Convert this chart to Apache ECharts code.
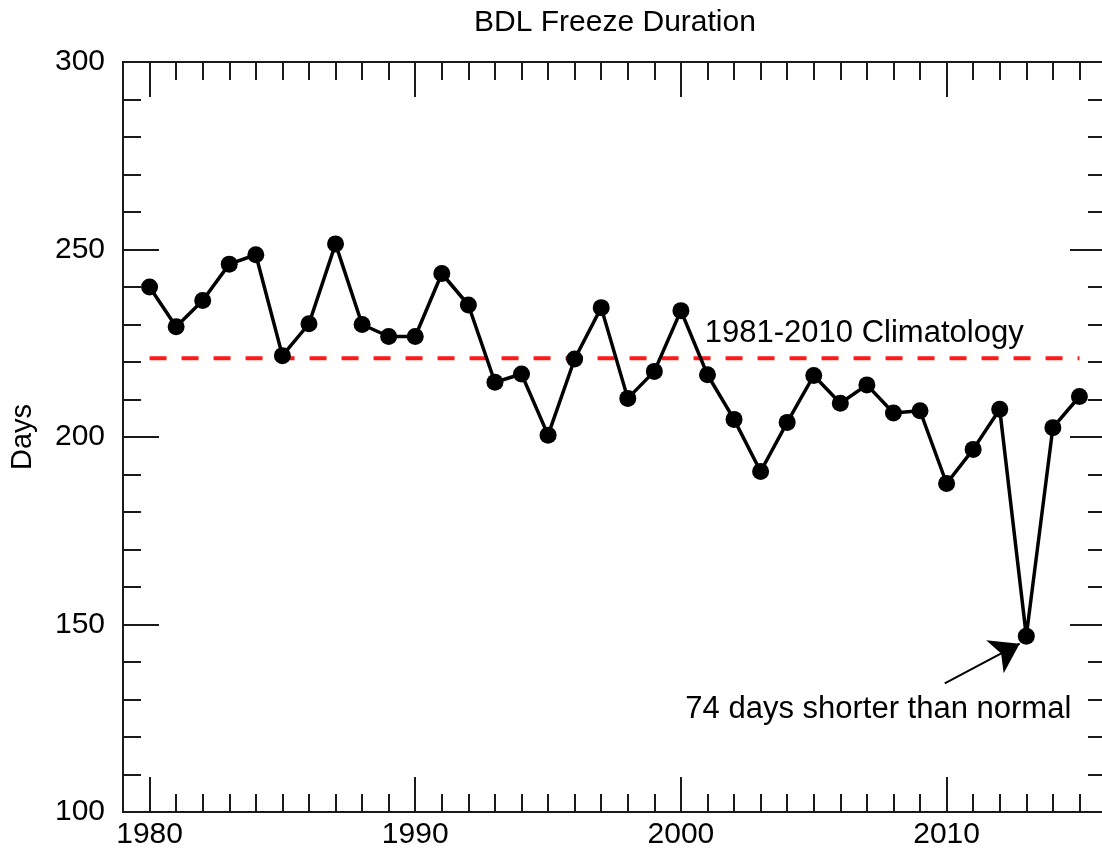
<!DOCTYPE html>
<html>
<head>
<meta charset="utf-8">
<title>BDL Freeze Duration</title>
<script src="https://cdn.jsdelivr.net/npm/echarts@6/dist/echarts.min.js"></script>
<style>
  html, body { margin: 0; padding: 0; background: #fff; }
  #chart { width: 1102px; height: 853px; }
</style>
</head>
<body>
<div id="chart"></div>
<script>
// freeze duration (days) per year
const years = [1980, 1981, 1982, 1983, 1984, 1985, 1986, 1987, 1988, 1989,
  1990, 1991, 1992, 1993, 1994, 1995, 1996, 1997, 1998, 1999,
  2000, 2001, 2002, 2003, 2004, 2005, 2006, 2007, 2008, 2009,
  2010, 2011, 2012, 2013, 2014, 2015];
const days = [240.0, 229.4, 236.4, 246.1, 248.6, 221.7, 230.2, 251.5, 230.0, 226.8,
  226.8, 243.6, 235.2, 214.6, 216.8, 200.5, 220.8, 234.5, 210.3, 217.5,
  233.7, 216.6, 204.7, 190.8, 203.9, 216.4, 209.0, 213.9, 206.4, 207.0,
  187.6, 196.7, 207.4, 146.9, 202.5, 210.8];

// 1981-2010 normal
const climatology = 221;
const climatologySpan = [1980, 2015];

// axis ticks
const decadeTicks = [1980, 1990, 2000, 2010];

// annotation anchors (data units)
const arrowFrom = [2009.93, 134.3];
const arrowTo = [2012.75, 144.9];
const noteAt = [2007.43, 127.4];
const climLabelAt = [2006.9, 227.6];

const chart = echarts.init(document.getElementById("chart"));

const font = "Liberation Sans, Arial, Helvetica, sans-serif";
const ink = "#000";
const axisInk = "#1a1a1a";

const xLayer = (position, ticks, len, labels) => ({
  type: "value",
  position,
  min: 1979,
  max: 2016,
  axisLine: { show: true, onZero: false, lineStyle: { color: axisInk, width: 2 } },
  axisTick: { show: true, inside: true, length: len, customValues: ticks, lineStyle: { color: axisInk, width: 2 } },
  axisLabel: labels
    ? { show: true, customValues: labels, margin: 8, fontSize: 30, color: ink, fontFamily: font, formatter: (v) => String(v) }
    : { show: false },
  splitLine: { show: false },
});

const yLayer = (position, interval, len, withLabels) => ({
  type: "value",
  position,
  min: 100,
  max: 300,
  interval,
  axisLine: { show: true, onZero: false, lineStyle: { color: axisInk, width: 2 } },
  axisTick: { show: true, inside: true, length: len, lineStyle: { color: axisInk, width: 2 } },
  axisLabel: withLabels
    ? { show: true, margin: 18, fontSize: 30, color: ink, fontFamily: font }
    : { show: false },
  splitLine: { show: false },
  name: withLabels ? "Days" : "",
  nameLocation: "middle",
  nameRotate: 90,
  nameGap: 86,
  nameTextStyle: { fontSize: 29, color: ink, fontFamily: font },
});

const options = {
  backgroundColor: "#fff",
  animation: false,
  grid: { left: 123, top: 62, width: 983, height: 750, outerBoundsMode: "none", containLabel: false },
  xAxis: [
    xLayer("bottom", years, 18, decadeTicks),
    xLayer("bottom", decadeTicks, 35, null),
    xLayer("top", years, 18, null),
    xLayer("top", decadeTicks, 35, null),
  ],
  yAxis: [
    yLayer("left", 50, 36, true),
    yLayer("left", 10, 18, false),
    yLayer("right", 50, 36, false),
    yLayer("right", 10, 18, false),
  ],
  series: [
    {
      name: "Climatology",
      type: "line",
      data: climatologySpan.map((y) => [y, climatology]),
      symbol: "none",
      lineStyle: { color: "#ff1a1a", width: 4, type: [17, 15] },
      z: 1,
    },
    {
      name: "Freeze Duration",
      type: "line",
      data: years.map((y, i) => [y, days[i]]),
      symbol: "circle",
      symbolSize: 17,
      itemStyle: { color: "#000" },
      lineStyle: { color: "#000", width: 3.5 },
      z: 3,
      markLine: {
        silent: true,
        symbol: ["none", "arrow"],
        symbolSize: 28,
        label: { show: false },
        lineStyle: { color: "#000", width: 2, type: "solid" },
        data: [[{ coord: arrowFrom }, { coord: arrowTo }]],
      },
    },
  ],
};

chart.setOption(options);

// text annotations placed through the axis scales
const notePx = chart.convertToPixel({ gridIndex: 0 }, noteAt);
const climPx = chart.convertToPixel({ gridIndex: 0 }, climLabelAt);
chart.setOption({
  graphic: [
    {
      type: "text",
      x: 615,
      y: 23,
      style: { text: "BDL Freeze Duration", font: "30px " + font, fill: ink, align: "center", verticalAlign: "middle" },
    },
    {
      type: "text",
      x: climPx[0],
      y: climPx[1],
      style: { text: "1981-2010 Climatology", font: "31px " + font, fill: ink, align: "center", verticalAlign: "middle" },
    },
    {
      type: "text",
      x: notePx[0],
      y: notePx[1],
      style: { text: "74 days shorter than normal", font: "31px " + font, fill: ink, align: "center", verticalAlign: "middle" },
    },
  ],
});

window.addEventListener("resize", () => {
  chart.resize();
});
</script>
</body>
</html>
